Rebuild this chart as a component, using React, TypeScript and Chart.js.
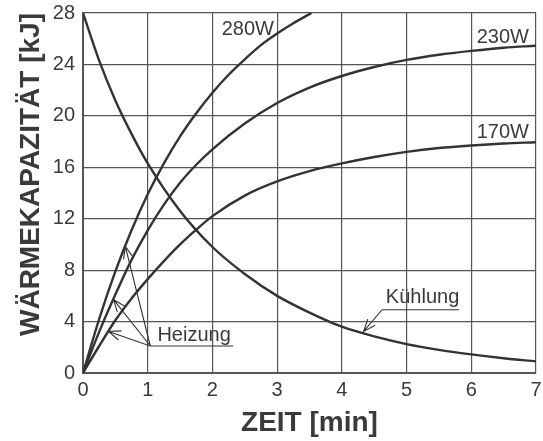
import React, { useEffect, useRef } from "react";
import { Chart, registerables } from "chart.js";

Chart.register(...registerables);

// ---- data ----
const X_MIN = 0;
const X_MAX = 7;
const Y_MIN = 0;
const Y_MAX = 28;
const X_STEP = 1;
const Y_STEP = 4;

const heat280Time = [0, 0.25, 0.5, 0.75, 1, 1.25, 1.5, 1.75, 2, 2.25, 2.5, 2.75, 3, 3.25, 3.53];
const heat280Values = [0, 4.2, 7.9, 11.1, 13.9, 16.3, 18.4, 20.2, 21.8, 23.2, 24.4, 25.5, 26.4, 27.2, 28];

const heat230Time = [0, 0.25, 0.5, 0.75, 1, 1.25, 1.5, 1.75, 2, 2.5, 3, 3.5, 4, 4.5, 5, 5.5, 6, 6.5, 7];
const heat230Values = [0, 3.2, 6.1, 8.8, 11.1, 13.1, 14.8, 16.2, 17.4, 19.4, 21.0, 22.2, 23.1, 23.8, 24.35, 24.75, 25.05, 25.3, 25.45];

const heat170Time = [0, 0.25, 0.5, 0.75, 1, 1.25, 1.5, 1.75, 2, 2.5, 3, 3.5, 4, 4.5, 5, 5.5, 6, 6.5, 7];
const heat170Values = [0, 2.1, 4.1, 5.8, 7.3, 8.7, 10.0, 11.15, 12.2, 13.8, 14.9, 15.7, 16.3, 16.8, 17.2, 17.5, 17.7, 17.85, 17.95];

const coolTime = [0, 0.25, 0.5, 0.75, 1, 1.5, 2, 2.5, 3, 3.5, 4, 4.5, 5, 5.5, 6, 6.5, 7];
const coolValues = [28, 24.3, 21.2, 18.6, 16.3, 12.6, 9.8, 7.7, 6.0, 4.7, 3.6, 2.85, 2.25, 1.8, 1.45, 1.15, 0.9];

const seriesLabels = ["280W", "230W", "170W", "Kühlung"];
const heatingLabel = "Heizung";
const coolingLabel = "Kühlung";
const xTitle = "ZEIT [min]";
const yTitle = "WÄRMEKAPAZITÄT [kJ]";

const toPoints = (xs: number[], ys: number[]) => xs.map((x, i) => ({ x, y: ys[i] }));

const TEXT_COLOR = "#3a3a3a";
const LINE_COLOR = "#333333";
const GRID_COLOR = "#555555";
const FONT_FAMILY = '"Liberation Sans", Arial, Helvetica, sans-serif';

function drawArrow(ctx: CanvasRenderingContext2D, x0: number, y0: number, x1: number, y1: number) {
  const a = Math.atan2(y1 - y0, x1 - x0);
  const L = 13;
  const th = 0.38;
  ctx.beginPath();
  ctx.moveTo(x0, y0);
  ctx.lineTo(x1, y1);
  ctx.moveTo(x1 - L * Math.cos(a - th), y1 - L * Math.sin(a - th));
  ctx.lineTo(x1, y1);
  ctx.lineTo(x1 - L * Math.cos(a + th), y1 - L * Math.sin(a + th));
  ctx.stroke();
}

const annotationPlugin = {
  id: "curveAnnotations",
  afterDatasetsDraw(chart: any) {
    const { ctx } = chart;
    const xs = chart.scales.x;
    const ys = chart.scales.y;
    const px = (v: number) => xs.getPixelForValue(v);
    const py = (v: number) => ys.getPixelForValue(v);
    ctx.save();
    ctx.font = `20px ${FONT_FAMILY}`;
    ctx.fillStyle = TEXT_COLOR;
    ctx.textBaseline = "alphabetic";

    // curve labels
    ctx.textAlign = "right";
    ctx.fillText(seriesLabels[0], px(2.95), py(26.3));
    ctx.fillText(seriesLabels[1], px(6.89), py(25.7));
    ctx.fillText(seriesLabels[2], px(6.89), py(18.27));

    // Heizung label + arrows
    ctx.textAlign = "left";
    ctx.fillText(heatingLabel, px(1.15), py(2.5));
    ctx.strokeStyle = LINE_COLOR;
    ctx.lineWidth = 1.1;
    const bx = px(1.04);
    const by = py(2.1);
    ctx.beginPath();
    ctx.moveTo(bx, by);
    ctx.lineTo(px(2.32), by);
    ctx.stroke();
    drawArrow(ctx, bx, by, px(0.654), py(9.85));
    drawArrow(ctx, bx, by, px(0.473), py(5.7));
    drawArrow(ctx, bx, by, px(0.396), py(3.23));

    // Kühlung label + arrow
    ctx.fillText(coolingLabel, px(4.68), py(5.44));
    const kx = px(4.62);
    const ky = py(4.92);
    ctx.beginPath();
    ctx.moveTo(kx, ky);
    ctx.lineTo(px(5.81), ky);
    ctx.stroke();
    drawArrow(ctx, kx, ky, px(4.337), py(3.23));
    ctx.restore();
  },
};

export default function App() {
  const canvasRef = useRef<HTMLCanvasElement | null>(null);

  useEffect(() => {
    const canvas = canvasRef.current;
    if (!canvas) return;
    const lineStyle = {
      borderColor: LINE_COLOR,
      borderWidth: 2.4,
      pointRadius: 0,
      fill: false,
      cubicInterpolationMode: "monotone" as const,
    };
    const chart = new Chart(canvas, {
      type: "line",
      data: {
        datasets: [
          { label: seriesLabels[0], data: toPoints(heat280Time, heat280Values), ...lineStyle },
          { label: seriesLabels[1], data: toPoints(heat230Time, heat230Values), ...lineStyle },
          { label: seriesLabels[2], data: toPoints(heat170Time, heat170Values), ...lineStyle },
          { label: seriesLabels[3], data: toPoints(coolTime, coolValues), ...lineStyle },
        ],
      },
      options: {
        animation: false,
        responsive: false,
        devicePixelRatio: 1,
        layout: { padding: { top: 13, right: 7, left: 0, bottom: 0 } },
        plugins: { legend: { display: false }, tooltip: { enabled: false } },
        scales: {
          x: {
            type: "linear",
            min: X_MIN,
            max: X_MAX,
            ticks: {
              stepSize: X_STEP,
              padding: 5,
              color: TEXT_COLOR,
              font: { family: FONT_FAMILY, size: 20 },
              maxRotation: 0,
            },
            grid: { color: GRID_COLOR, lineWidth: 1.2, drawTicks: false },
            border: { color: GRID_COLOR, width: 2 },
            title: {
              display: true,
              text: xTitle,
              color: TEXT_COLOR,
              font: { family: FONT_FAMILY, size: 28, weight: "bold" },
              padding: { top: 0, bottom: 1 },
            },
            afterFit: (scale: any) => {
              scale.height = 68;
              scale.paddingLeft = 0;
              scale.paddingRight = 0;
            },
          },
          y: {
            type: "linear",
            min: Y_MIN,
            max: Y_MAX,
            ticks: {
              stepSize: Y_STEP,
              padding: 8,
              color: TEXT_COLOR,
              font: { family: FONT_FAMILY, size: 20 },
            },
            grid: { color: GRID_COLOR, lineWidth: 1.2, drawTicks: false },
            border: { color: GRID_COLOR, width: 2 },
            title: {
              display: true,
              text: yTitle,
              align: "end",
              color: TEXT_COLOR,
              font: { family: FONT_FAMILY, size: 28, weight: "bold" },
              padding: { top: 14, bottom: 0 },
            },
            afterFit: (scale: any) => {
              scale.width = 83;
              scale.paddingTop = 0;
              scale.paddingBottom = 0;
            },
          },
        },
      },
      plugins: [annotationPlugin],
    });
    return () => chart.destroy();
  }, []);

  return (
    <div style={{ position: "fixed", left: 0, top: 0, width: 543, height: 441, background: "#fff" }}>
      <canvas ref={canvasRef} width={543} height={441} style={{ width: 543, height: 441, display: "block" }} />
    </div>
  );
}
